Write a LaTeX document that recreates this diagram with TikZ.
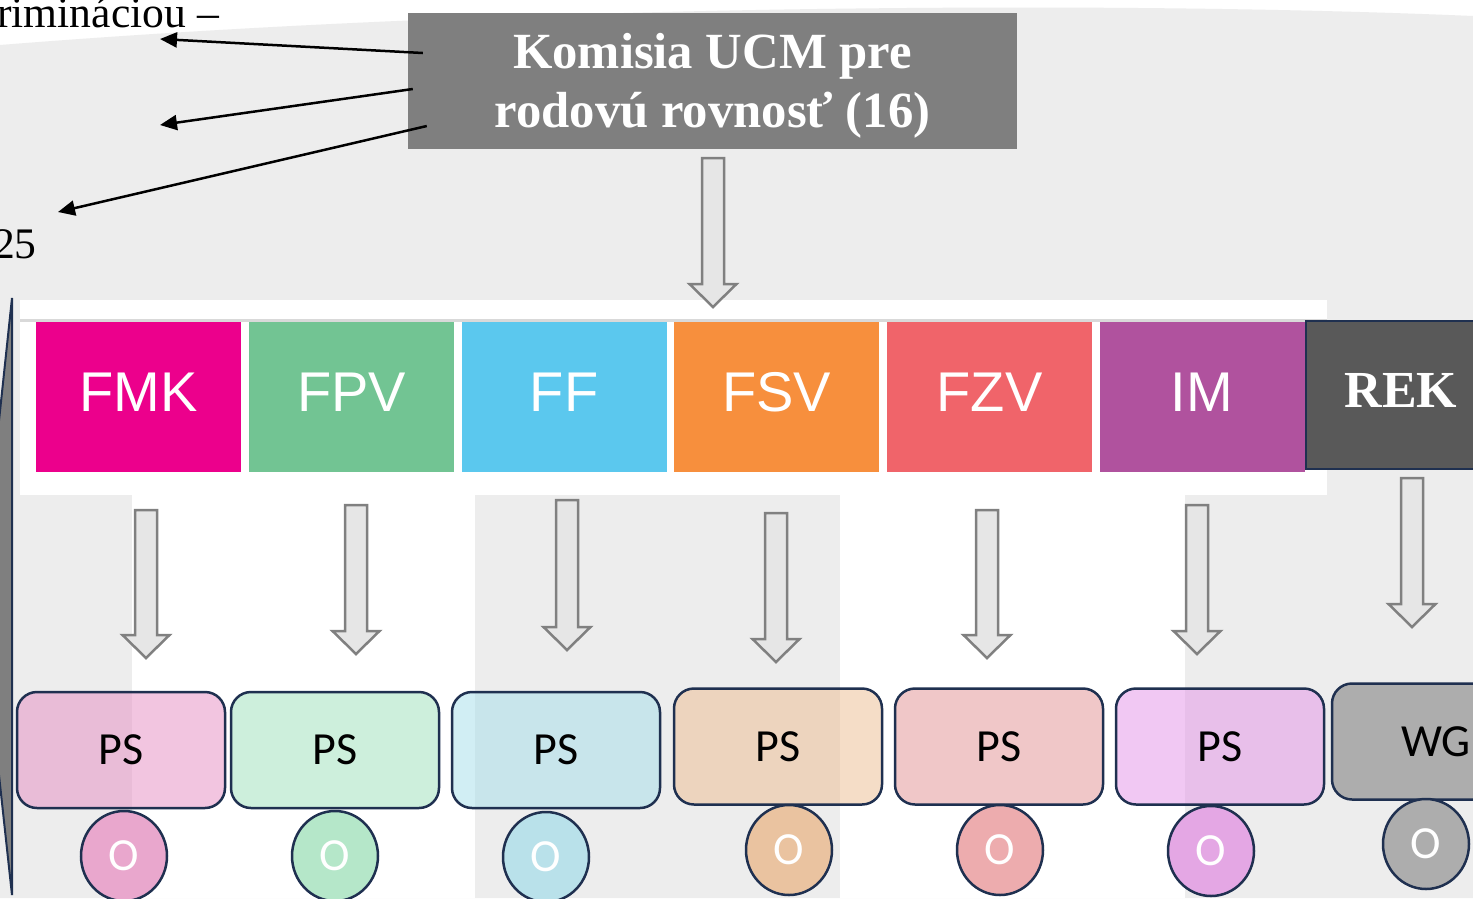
\documentclass[tikz,border=0pt]{standalone}
\usepackage{fontspec}
\setmainfont{Liberation Serif}
\newfontfamily\arialfont{Liberation Sans}
\newfontfamily\calfont{Carlito}
\usetikzlibrary{arrows.meta,shapes.geometric}

\definecolor{bggray}{HTML}{EDEDED}
\definecolor{navy}{HTML}{1F3050}
\definecolor{komgray}{HTML}{7F7F7F}
\definecolor{arrfill}{HTML}{E6E6E6}
\definecolor{arrline}{HTML}{808080}
\definecolor{panelline}{HTML}{D9D9D9}
\definecolor{cfmk}{HTML}{EC008C}
\definecolor{cfpv}{HTML}{72C493}
\definecolor{cff}{HTML}{5BC8EE}
\definecolor{cfsv}{HTML}{F78F3D}
\definecolor{cfzv}{HTML}{F0646A}
\definecolor{cim}{HTML}{B0529E}
\definecolor{crek}{HTML}{595959}
\definecolor{cps1}{HTML}{E78DC3}
\definecolor{cps2}{HTML}{9DE1BB}
\definecolor{cps3}{HTML}{A5DFEB}
\definecolor{cps4}{HTML}{EDBD91}
\definecolor{cps5}{HTML}{E39193}
\definecolor{cps6}{HTML}{E593E9}
\definecolor{cps7}{HTML}{6F6F6F}
\definecolor{co1}{HTML}{E9A7CD}
\definecolor{co2}{HTML}{B5E7C9}
\definecolor{co3}{HTML}{B9E1EA}
\definecolor{co4}{HTML}{EAC3A0}
\definecolor{co5}{HTML}{EDACAE}
\definecolor{co6}{HTML}{E4A7E4}
\definecolor{co7}{HTML}{ADADAD}

\begin{document}
\begin{tikzpicture}[x=1pt,y=-1pt,
  fak/.style={minimum width=205pt,minimum height=150pt,inner sep=0pt,text depth=10pt,
    text=white,font=\arialfont\fontsize{56}{56}\selectfont},
  ps/.style={draw=navy,line width=2.5pt,rounded corners=20pt,minimum width=208pt,
    minimum height=116pt,fill opacity=0.5,text opacity=1,font=\calfont\fontsize{46}{46}\selectfont},
  ovl/.style={ellipse,draw=navy,line width=2.5pt,minimum width=86pt,minimum height=90pt,
    inner sep=0pt,text=white,font=\calfont\fontsize{46}{46}\selectfont},
  blk/.style={fill=arrfill,draw=arrline,line width=2.5pt},
  ptr/.style={line width=2.5pt,-{Triangle[length=17pt,width=15pt]}}]
\useasboundingbox (0,0) rectangle (1473,898);
\clip (0,0) rectangle (1473,898);

\fill[white] (0,0) rectangle (1473,898);
\fill[bggray] (0,45) .. controls (500,5) and (1100,0) .. (1473,16) -- (1473,898) -- (0,898) -- cycle;
\fill[white] (132,495) rectangle (475,898);
\fill[white] (840,495) rectangle (1185,898);
\fill[white] (20,300) rectangle (1327,495);
\draw[panelline,line width=3pt] (20,320.5) -- (1327,320.5);

\filldraw[fill=komgray,draw=navy,line width=2pt] (12,298) -- (-20,600) -- (12,895) -- cycle;

\node[anchor=base west,inner sep=0pt,font=\fontsize{43.6}{50}\selectfont] (txa) at (-3,27) {rimináciou –};
\node[anchor=base east,inner sep=0pt,font=\fontsize{43.6}{50}\selectfont] (txb) at (37,258) {25};

\node[fill=komgray,minimum width=609pt,minimum height=136pt,text=white,align=center,
  text depth=1.5pt,font=\bfseries\fontsize{50.7}{59}\selectfont] (kom) at (712.5,81)
  {Komisia UCM pre\\rodovú rovnosť (16)};

\coordinate (t1) at (160,39);
\coordinate (t2) at (160,125);
\coordinate (t3) at (58,212);
\draw[ptr] ([xshift=15pt,yshift=28pt]kom.west) -- (t1);
\draw[ptr] ([xshift=5pt,yshift=-8pt]kom.west) -- (t2);
\draw[ptr] ([xshift=19pt,yshift=-45pt]kom.west) -- (t3);

\foreach \n/\c/\lab/\x in {fmk/cfmk/FMK/138.5,fpv/cfpv/FPV/351.5,ff/cff/FF/564,
  fsv/cfsv/FSV/776.5,fzv/cfzv/FZV/989.5,im/cim/IM/1202}
  \node[fak,fill=\c] (\n) at (\x,397) {\lab};
\node[fak,fill=crek,draw=navy,line width=2.5pt,minimum width=190pt,minimum height=148pt,
  font=\bfseries\fontsize{52}{52}\selectfont] (rek) at (1401,395) {REK};

\foreach \x/\t/\b in {713/158/307,146/510/658,356/505/654,567/500/650,
  776/513/662,987/510/658,1197/505/654,1412/478/627}
  \draw[blk] ({\x-11},\t) -- ({\x+11},\t) -- ({\x+11},{\b-23}) -- ({\x+23.5},{\b-23})
    -- (\x,\b) -- ({\x-23.5},{\b-23}) -- ({\x-11},{\b-23}) -- cycle;

\foreach \i/\x/\y in {1/121/750,2/335/750,3/556/750,4/778/746.5,5/999/746.5,6/1220/746.5}
  \node[ps,fill=cps\i] (ps\i) at (\x,\y) {PS};
\node[ps,fill=cps7] (ps7) at (1436,741.5) {WG};

\foreach \i/\x/\y in {1/124/856,2/335/856,3/546/857,4/789/850,5/1000/850,6/1211/851,7/1426/844}
  \node[ovl,fill=co\i] (o\i) at (\x,\y) {O};

\end{tikzpicture}
\end{document}
